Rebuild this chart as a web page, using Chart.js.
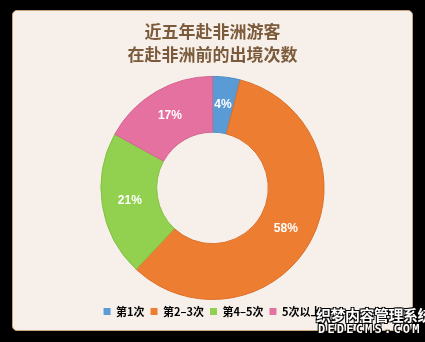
<!DOCTYPE html>
<html><head><meta charset="utf-8">
<script src="https://cdn.jsdelivr.net/npm/chart.js@4/dist/chart.umd.min.js"></script>
<style>
html,body{margin:0;padding:0;background:#000;width:425px;height:342px;overflow:hidden;}
#card{position:absolute;left:12px;top:10px;width:399px;height:319px;background:#f7f0ea;border:1px solid #c9a47c;border-radius:5px;}
#wrap{position:absolute;left:12px;top:10px;width:401px;height:321px;}
#wm1{position:absolute;left:316px;top:304px;font:bold 15px "Noto Sans CJK SC";color:#fff;text-shadow:1px 1px 0 #000,-1px -1px 0 #000,1px -1px 0 #000,-1px 1px 0 #000;letter-spacing:-0.5px;white-space:nowrap;}
#wm2{position:absolute;left:318px;top:322px;font:bold 12px "DejaVu Sans Mono";color:#fff;text-shadow:1px 1px 0 #000,-1px -1px 0 #000,1px -1px 0 #000,-1px 1px 0 #000;letter-spacing:2.2px;white-space:nowrap;}
</style></head>
<body>
<div id="card"></div>
<div id="wrap"><canvas id="c" width="401" height="321"></canvas></div>
<div id="wm1">织梦内容管理系统</div>
<div id="wm2">DEDECMS.COM</div>
<script>
const titleLines = ["近五年赴非洲游客", "在赴非洲前的出境次数"];
const categories = ["第1次", "第2–3次", "第4–5次", "5次以上"];
const values = [4, 58, 21, 17];
const colors = ["#5b9bd5", "#ed7d31", "#92d050", "#e4719f"];
const borders = ["#4f8cc4", "#d9702a", "#84c044", "#d3658f"];

const labelPlugin = {
  id: 'pctLabels',
  afterDatasetsDraw(chart) {
    const ctx = chart.ctx;
    const meta = chart.getDatasetMeta(0);
    ctx.save();
    ctx.font = 'bold 12px "Liberation Sans", Arial, sans-serif';
    ctx.fillStyle = '#ffffff';
    ctx.textAlign = 'center';
    ctx.textBaseline = 'middle';
    meta.data.forEach((arc, i) => {
      const p = arc.tooltipPosition();
      ctx.fillText(values[i] + '%', p.x, p.y);
    });
    ctx.restore();
  }
};

new Chart(document.getElementById('c'), {
  type: 'doughnut',
  data: {
    labels: categories,
    datasets: [{
      data: values,
      backgroundColor: colors,
      borderColor: borders,
      borderWidth: 1,
      hoverOffset: 0
    }]
  },
  options: {
    responsive: false,
    animation: false,
    cutout: '50%',
    layout: { padding: { top: 0, bottom: 4, left: 0, right: 0 } },
    plugins: {
      title: {
        display: true,
        text: titleLines,
        color: '#7b5b3b',
        font: { family: '"Noto Sans CJK SC"', size: 17, weight: 'bold', lineHeight: 1.35 },
        padding: { top: 10, bottom: 10 }
      },
      legend: {
        position: 'bottom',
        labels: {
          boxWidth: 7, boxHeight: 7, padding: 6,
          color: '#6a6a6a',
          font: { family: '"Noto Sans CJK SC"', size: 11, weight: 'bold' },
          generateLabels(chart) {
            return categories.map((c, i) => ({
              text: c, fillStyle: colors[i], strokeStyle: colors[i], lineWidth: 0, index: i, hidden: false
            }));
          }
        }
      },
      tooltip: { enabled: false }
    }
  },
  plugins: [labelPlugin]
});
</script>
</body></html>
